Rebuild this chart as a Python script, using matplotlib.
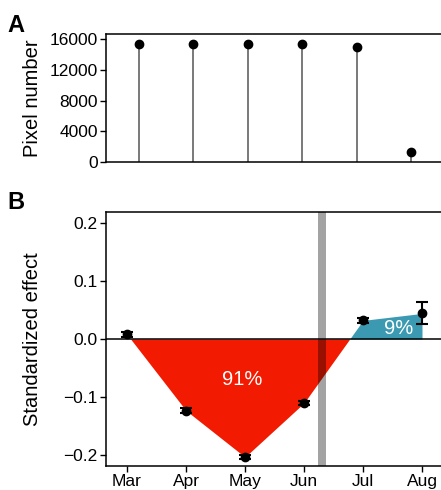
import numpy as np
import matplotlib
matplotlib.use('Agg')
import matplotlib.pyplot as plt

plt.rcParams['font.family'] = ['Liberation Sans', 'DejaVu Sans']

months = ['Mar', 'Apr', 'May', 'Jun', 'Jul', 'Aug']

# panel A: pixel counts per month
pixel_number = [15400, 15400, 15400, 15400, 15000, 1300]

# panel B: standardized effects with error bar half widths
effect = [0.008, -0.123, -0.203, -0.110, 0.032, 0.044]
effect_err_low = [0.004, 0.004, 0.004, 0.004, 0.004, 0.019]
effect_err_high = [0.004, 0.004, 0.004, 0.004, 0.004, 0.019]
share_labels = ['91%', '9%']
share_pos = [(1.95, -0.070), (4.6, 0.018)]
band_center = 3.305

RED = '#F21A00'
BLUE = '#3B9AB2'

fig = plt.figure(figsize=(4.41, 4.9), dpi=100)

# ---------------- panel A
ax1 = fig.add_axes([106/441, 1 - 162/490, 338/441, 128/490])
x1 = np.arange(len(months))
ax1.vlines(x1, 0, pixel_number, color='#555555', lw=1.1)
ax1.plot(x1, pixel_number, 'o', color='black', ms=6)
ax1.set_xlim(-0.6, len(months) - 0.4)
ax1.set_ylim(0, 16700)
ax1.set_yticks([0, 4000, 8000, 12000, 16000])
ax1.set_xticks([])
ax1.set_ylabel('Pixel number', fontsize=14.5)
ax1.yaxis.set_label_coords((42 - 106) / 338, 0.5)
ax1.tick_params(axis='y', labelsize=12.5, length=4, width=1, pad=2)
for s in ax1.spines.values():
    s.set_linewidth(1.1)
fig.text(7/441, 1 - 32/490, 'A', fontsize=17, fontweight='bold')

# ---------------- panel B
ax2 = fig.add_axes([106/441, 1 - 466/490, 345.5/441, 254/490])
x2 = np.arange(len(months), dtype=float)
y2 = np.array(effect)

# dense line for filling between points (linear between the measured months)
xd = np.linspace(0, 5, 2001)
yd = np.interp(xd, x2, y2)
ax2.fill_between(xd, yd, 0, where=(yd <= 0), color=RED,
                 interpolate=True, lw=0)
ax2.fill_between(xd, yd, 0, where=(yd >= 0) & (xd > 3), color=BLUE,
                 interpolate=True, lw=0)

ax2.axhline(0, color='black', lw=1.1)
ax2.axvspan(band_center - 0.068, band_center + 0.068, color='black',
            alpha=0.36, lw=0)

ax2.errorbar(x2, y2, yerr=[effect_err_low, effect_err_high], fmt='o',
             color='black', ms=6, capsize=4, elinewidth=1.5, capthick=1.5)

for lab, (tx, ty) in zip(share_labels, share_pos):
    ax2.text(tx, ty, lab, color='white', fontsize=14.5,
             ha='center', va='center')

ax2.set_xlim(-0.356, 5.5)
ax2.set_ylim(-0.2184, 0.2184)
ax2.set_xticks(x2)
ax2.set_xticklabels(months)
ax2.set_yticks([-0.2, -0.1, 0.0, 0.1, 0.2])
ax2.set_yticklabels(['\u22120.2', '\u22120.1', '0.0', '0.1', '0.2'])
ax2.set_ylabel('Standardized effect', fontsize=14.5)
ax2.yaxis.set_label_coords((42 - 106) / 345.5, 0.5)
ax2.tick_params(labelsize=12.5, length=4, width=1, pad=2)
for s in ax2.spines.values():
    s.set_linewidth(1.1)
fig.text(7/441, 1 - 209/490, 'B', fontsize=17, fontweight='bold')

fig.savefig('out.png', dpi=100)
